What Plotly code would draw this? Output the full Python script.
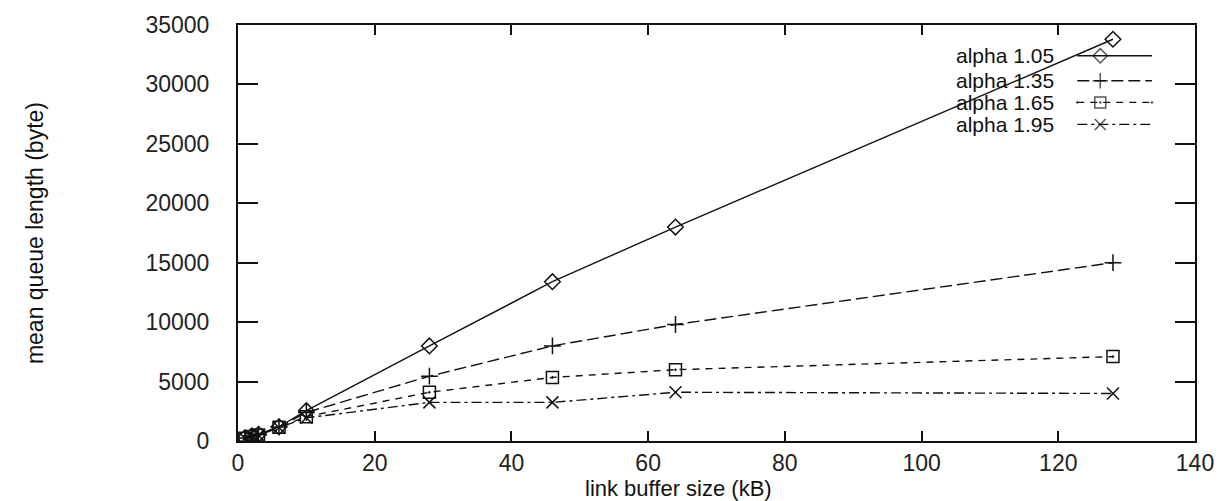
import plotly.graph_objects as go

# Link buffer sizes (kB) and mean queue length (byte) for each alpha
buffer_kb = [1, 2, 3, 6, 10, 28, 46, 64, 128]
series_names = ["alpha 1.05", "alpha 1.35", "alpha 1.65", "alpha 1.95"]
queue_a105 = [260, 420, 560, 1200, 2550, 8000, 13400, 18000, 33800]
queue_a135 = [250, 400, 530, 1180, 2400, 5450, 8000, 9800, 15000]
queue_a165 = [240, 380, 500, 1150, 2050, 4100, 5350, 6000, 7100]
queue_a195 = [230, 370, 480, 1120, 1950, 3250, 3250, 4100, 4000]
x_ticks = [0, 20, 40, 60, 80, 100, 120, 140]
y_ticks = [0, 5000, 10000, 15000, 20000, 25000, 30000, 35000]

series_values = [queue_a105, queue_a135, queue_a165, queue_a195]
symbols = ["diamond-open", "cross-thin-open", "square-open-dot", "x-thin-open"]
dashes = ["solid", "12px,5px", "7px,6px", "10px,4px,3px,4px"]

FONT = "Liberation Sans, Arial, sans-serif"
INK = "#111111"

fig = go.Figure()

for name, vals, sym, dash in zip(series_names, series_values, symbols, dashes):
    fig.add_trace(go.Scatter(
        x=buffer_kb, y=vals, name=name, mode="lines+markers",
        line=dict(color=INK, width=1.4, dash=dash),
        marker=dict(symbol=sym, size=12, color=INK,
                    line=dict(color=INK, width=1.5)),
        showlegend=False,
    ))

# Key in the upper right: label on the left, line sample with symbol on the right
key_rows = [0.926, 0.866, 0.814, 0.761]
key_text_x = 0.855
key_line = [0.877, 0.901, 0.955]
for name, sym, dash, yr in zip(series_names, symbols, dashes, key_rows):
    fig.add_annotation(
        x=key_text_x, y=yr, xref="paper", yref="paper", text=name,
        showarrow=False, xanchor="right", yanchor="middle",
        font=dict(family=FONT, size=21, color=INK),
    )
    fig.add_trace(go.Scatter(
        x=key_line, y=[yr] * 3, xaxis="x2", yaxis="y2",
        mode="lines+markers", showlegend=False, hoverinfo="skip",
        line=dict(color=INK, width=1.4, dash=dash),
        marker=dict(symbol=sym, size=[0, 11, 0], color=INK,
                    line=dict(color=INK, width=1.5)),
    ))

axis_common = dict(
    showline=True, linecolor=INK, linewidth=2, mirror="ticks",
    ticks="inside", tickcolor=INK, tickwidth=1.5,
    showgrid=False, zeroline=False,
    tickfont=dict(family=FONT, size=23, color="#222222"),
)

fig.update_layout(
    width=1230, height=501,
    margin=dict(l=238, r=35, t=22, b=60),
    paper_bgcolor="white", plot_bgcolor="white",
    showlegend=False,
    xaxis=dict(range=[0, 140], tickvals=x_ticks, ticklen=10,
               ticklabelstandoff=0, **axis_common),
    yaxis=dict(range=[0, 35000], tickvals=y_ticks, ticklen=20,
               tickformat="d", ticklabelstandoff=22, **axis_common),
    xaxis2=dict(range=[0, 1], overlaying="x", visible=False),
    yaxis2=dict(range=[0, 1], overlaying="y", visible=False),
)

fig.add_annotation(
    x=0.46, y=-0.113, xref="paper", yref="paper",
    text="link buffer size (kB)", showarrow=False,
    xanchor="center", yanchor="middle",
    font=dict(family=FONT, size=22, color=INK),
)
fig.add_annotation(
    x=-0.212, y=0.5, xref="paper", yref="paper",
    text="mean queue length (byte)", showarrow=False, textangle=-90,
    xanchor="center", yanchor="middle",
    font=dict(family=FONT, size=23, color=INK),
)

fig.write_html("out.html")
